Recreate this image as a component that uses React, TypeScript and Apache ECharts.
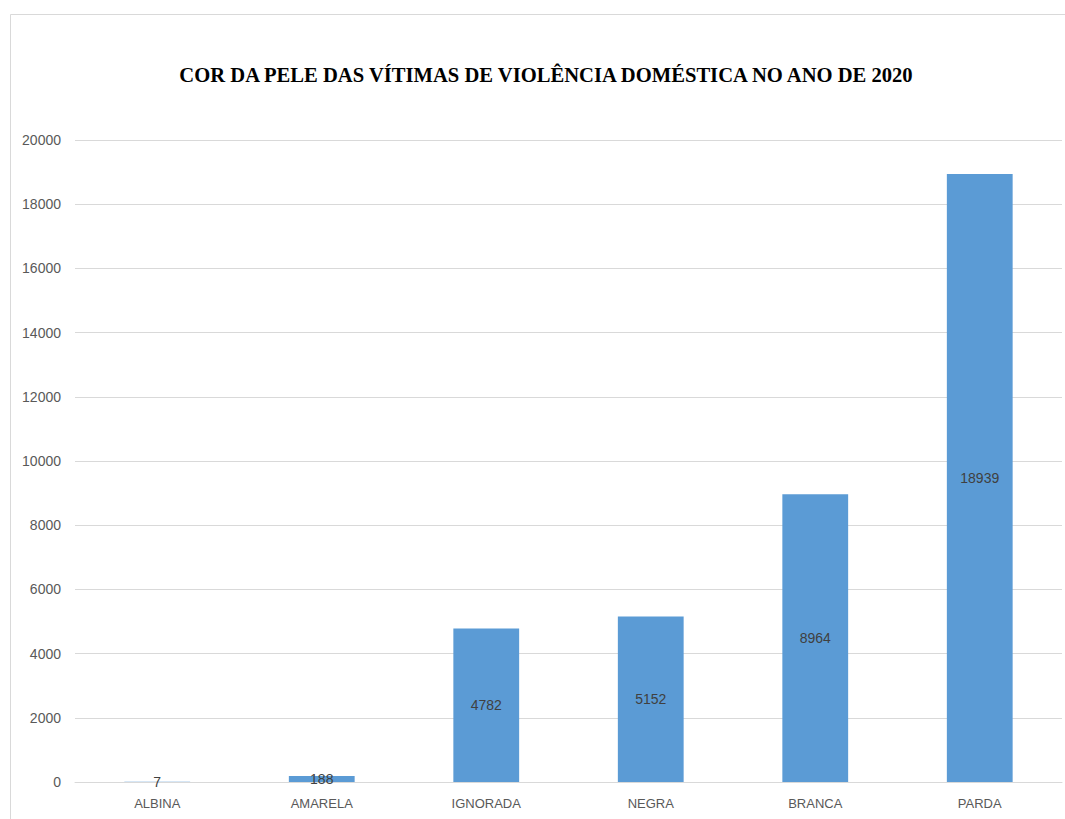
import React, { useEffect, useRef } from "react";
import * as echarts from "echarts";

const categories = ["ALBINA", "AMARELA", "IGNORADA", "NEGRA", "BRANCA", "PARDA"];
const values = [7, 188, 4782, 5152, 8964, 18939];
const titleText = "COR DA PELE DAS VÍTIMAS DE VIOLÊNCIA DOMÉSTICA NO ANO DE 2020";

export default function App() {
  const ref = useRef<HTMLDivElement>(null);
  useEffect(() => {
    document.body.style.margin = "0";
    const chart = echarts.init(ref.current!, null, { renderer: "svg" });
    chart.setOption({
      animation: false,
      backgroundColor: "#ffffff",
      graphic: [
        {
          type: "rect",
          shape: { x: 10.5, y: 14.5, width: 1070, height: 820 },
          style: { fill: "none", stroke: "#d9d9d9", lineWidth: 1 },
          silent: true,
        },
      ],
      title: {
        text: titleText,
        left: 541,
        textAlign: "center",
        top: 59,
        textStyle: {
          fontFamily: "Liberation Serif",
          fontWeight: "bold",
          fontSize: 20.6,
          color: "#000000",
        },
      },
      grid: { left: 75, right: 3, top: 140, bottom: 37, containLabel: false },
      xAxis: {
        type: "category",
        data: categories,
        axisLine: { lineStyle: { color: "#d9d9d9" } },
        axisTick: { show: false },
        axisLabel: {
          color: "#595959",
          fontFamily: "Liberation Sans",
          fontSize: 13,
          margin: 15,
        },
      },
      yAxis: {
        type: "value",
        min: 0,
        max: 20000,
        interval: 2000,
        axisLine: { show: false },
        axisTick: { show: false },
        splitLine: { lineStyle: { color: "#d9d9d9" } },
        axisLabel: {
          color: "#595959",
          fontFamily: "Liberation Sans",
          fontSize: 14,
          margin: 14,
          formatter: (v: number) => String(v),
        },
      },
      series: [
        {
          type: "bar",
          data: values,
          barWidth: "40%",
          itemStyle: { color: "#5b9bd5" },
          label: {
            show: true,
            position: "inside",
            color: "#404040",
            fontFamily: "Liberation Sans",
            fontSize: 14,
          },
        },
      ],
    });
    return () => chart.dispose();
  }, []);
  return (
    <div
      ref={ref}
      style={{ position: "fixed", left: 0, top: 0, width: 1065, height: 819 }}
    />
  );
}
